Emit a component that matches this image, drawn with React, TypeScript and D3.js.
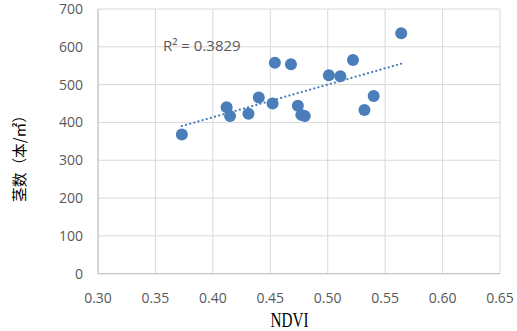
import React from 'react';
import * as d3 from 'd3';

// NDVI vs stem count
const ndvi = [0.373, 0.412, 0.415, 0.431, 0.440, 0.452, 0.454, 0.468, 0.474, 0.477, 0.480, 0.501, 0.511, 0.522, 0.540, 0.532, 0.564];
const stems = [368, 440, 417, 423, 466, 450, 558, 554, 444, 420, 417, 525, 522, 565, 470, 433, 636];
const xTicks = [0.30, 0.35, 0.40, 0.45, 0.50, 0.55, 0.60, 0.65];
const yTicks = [0, 100, 200, 300, 400, 500, 600, 700];
const r2Label = 'R² = 0.3829';

const W = 517, H = 331;
const left = 98, right = 500, top = 9, bottom = 273.7;

const App = () => {
	const x = d3.scaleLinear().domain([0.30, 0.65]).range([left, right]);
	const y = d3.scaleLinear().domain([0, 700]).range([bottom, top]);

	// least squares trend line
	const mx = d3.mean(ndvi) as number;
	const my = d3.mean(stems) as number;
	let sxy = 0, sxx = 0;
	ndvi.forEach((v, i) => { sxy += (v - mx) * (stems[i] - my); sxx += (v - mx) * (v - mx); });
	const slope = sxy / sxx;
	const icpt = my - slope * mx;
	const [x0, x1] = d3.extent(ndvi) as [number, number];

	const tickFont = '"Open Sans", "Liberation Sans", sans-serif';

	return (
		<svg width={W} height={H} style={{ position: 'absolute', left: 0, top: 0 }}>
			<rect width={W} height={H} fill="#fff" />
			{yTicks.map(t => (
				<line key={'gy' + t} x1={left} x2={right} y1={y(t)} y2={y(t)} stroke="#d9d9d9" strokeWidth={1} />
			))}
			{xTicks.map(t => (
				<line key={'gx' + t} x1={x(t)} x2={x(t)} y1={top} y2={bottom} stroke="#d9d9d9" strokeWidth={1} />
			))}
			<line x1={left} x2={left} y1={top} y2={bottom} stroke="#bfbfbf" />
			<line x1={left} x2={right} y1={bottom} y2={bottom} stroke="#bfbfbf" />

			{yTicks.map(t => (
				<text key={'ly' + t} x={83} y={y(t) + 5} textAnchor="end" fontSize={14} fill="#595959" fontFamily={tickFont}>{t}</text>
			))}
			{xTicks.map(t => (
				<text key={'lx' + t} x={x(t)} y={bottom + 29} textAnchor="middle" fontSize={14} fill="#595959" fontFamily={tickFont}>{t.toFixed(2)}</text>
			))}

			<line x1={x(x0)} x2={x(x1)} y1={y(icpt + slope * x0)} y2={y(icpt + slope * x1)}
				stroke="#4a7ebb" strokeWidth={2.2} strokeDasharray="0.1 4.2" strokeLinecap="round" />

			{ndvi.map((v, i) => (
				<circle key={i} cx={x(v)} cy={y(stems[i])} r={6} fill="#4a7ebb" />
			))}

			<text x={163} y={51} fontSize={15} fill="#595959" fontFamily={tickFont}>{r2Label}</text>

			<text x={289.5} y={327} textAnchor="middle" fontSize={20} fill="#000"
				fontFamily='"Liberation Serif", serif' textLength={38} lengthAdjust="spacingAndGlyphs">NDVI</text>
			<text transform="translate(25,155) rotate(-90)" textAnchor="middle" fontSize={15} fill="#000"
				fontFamily='"Noto Sans CJK SC", sans-serif' textLength={94} lengthAdjust="spacingAndGlyphs">茎数（本/㎡）</text>
		</svg>
	);
};

export default App;
